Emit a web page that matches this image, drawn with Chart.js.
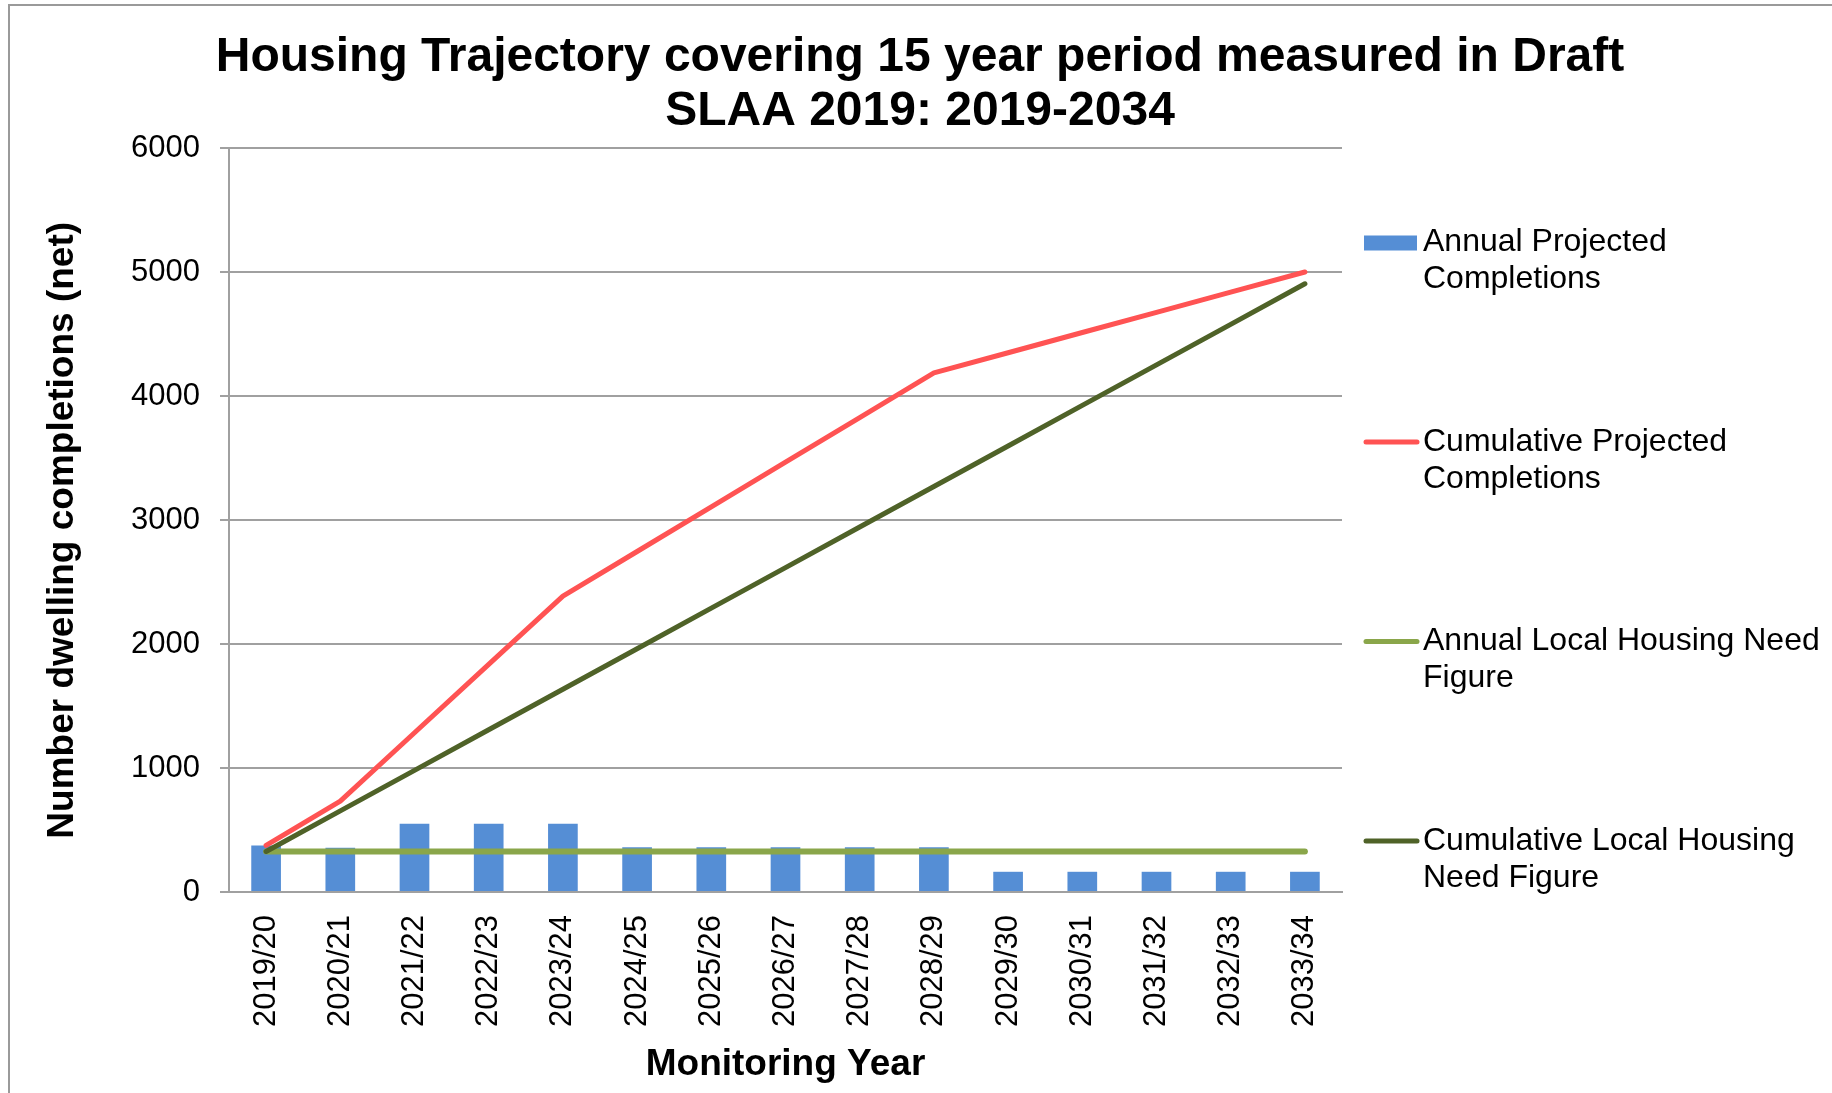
<!DOCTYPE html>
<html>
<head>
<meta charset="utf-8">
<script src="https://cdn.jsdelivr.net/npm/chart.js@4/dist/chart.umd.min.js"></script>
<style>
  html, body { margin: 0; padding: 0; background: #ffffff; }
  #wrap { position: relative; width: 1832px; height: 1093px; }
  canvas { display: block; }
</style>
</head>
<body>
<div id="wrap"><canvas id="c" width="1832" height="1093"></canvas></div>
<script>
// ---- data ----
const categories = ['2019/20','2020/21','2021/22','2022/23','2023/24','2024/25','2025/26','2026/27','2027/28','2028/29','2029/30','2030/31','2031/32','2032/33','2033/34'];
const annualProjected = [376, 357, 551, 551, 551, 360, 360, 360, 360, 360, 163, 163, 163, 163, 163];
const cumulativeProjected = [376, 733, 1284, 1835, 2386, 2746, 3106, 3466, 3826, 4186, 4349, 4512, 4675, 4838, 5000];
const annualNeed = [327, 327, 327, 327, 327, 327, 327, 327, 327, 327, 327, 327, 327, 327, 327];
const cumulativeNeed = [327, 654, 981, 1308, 1635, 1962, 2289, 2616, 2943, 3270, 3597, 3924, 4251, 4578, 4905];
const seriesNames = ['Annual Projected Completions', 'Cumulative Projected Completions', 'Annual Local Housing Need Figure', 'Cumulative Local Housing Need Figure'];
const titleLines = ['Housing Trajectory covering 15 year period measured in Draft', 'SLAA 2019: 2019-2034'];
const yTitle = 'Number dwelling completions (net)';
const xTitle = 'Monitoring Year';

const FONT = "'Liberation Sans', Arial, Helvetica, sans-serif";
const GRID = '#A0A0A0';

const frame = {
  id: 'frame',
  beforeDraw(chart) {
    const ctx = chart.ctx;
    ctx.save();
    ctx.fillStyle = '#ffffff';
    ctx.fillRect(0, 0, chart.width, chart.height);
    ctx.strokeStyle = '#9a9a9a';
    ctx.lineWidth = 2;
    ctx.beginPath();
    ctx.moveTo(9, chart.height);
    ctx.lineTo(9, 5);
    ctx.lineTo(chart.width, 5);
    ctx.stroke();
    ctx.restore();
  }
};

const sideLegend = {
  id: 'sideLegend',
  afterDraw(chart) {
    const ctx = chart.ctx;
    const area = chart.chartArea;
    ctx.save();
    ctx.font = '32px ' + FONT;
    ctx.fillStyle = '#000';
    ctx.textBaseline = 'middle';
    ctx.textAlign = 'left';
    const markX = area.right + 22;
    const markW = 53;
    const textX = area.right + 81;
    const maxW = 405;
    const firstY = 242.5;
    const step = 199.5;
    const lineH = 37;
    chart.data.datasets.forEach((ds, i) => {
      const y = firstY + i * step;
      if (ds.type === 'bar') {
        ctx.fillStyle = ds.backgroundColor;
        ctx.fillRect(markX, y - 7, markW, 15);
      } else {
        ctx.strokeStyle = ds.borderColor;
        ctx.lineWidth = 5;
        ctx.lineCap = 'round';
        ctx.beginPath();
        ctx.moveTo(markX + 2, y);
        ctx.lineTo(markX + markW, y);
        ctx.stroke();
      }
      const words = ds.label.split(' ');
      const lines = [];
      let cur = '';
      words.forEach(w => {
        const test = cur ? cur + ' ' + w : w;
        if (ctx.measureText(test).width > maxW && cur) { lines.push(cur); cur = w; }
        else cur = test;
      });
      if (cur) lines.push(cur);
      ctx.fillStyle = '#000';
      lines.forEach((ln, k) => ctx.fillText(ln, textX, y + k * lineH));
    });
    ctx.restore();
  }
};

new Chart(document.getElementById('c'), {
  data: {
    labels: categories,
    datasets: [
      { type: 'bar', label: seriesNames[0], data: annualProjected, backgroundColor: '#558ED5',
        barPercentage: 0.4, categoryPercentage: 1.0, order: 4 },
      { type: 'line', label: seriesNames[1], data: cumulativeProjected, borderColor: '#FF5353',
        borderWidth: 5, pointRadius: 0, tension: 0, borderCapStyle: 'round', borderJoinStyle: 'round', order: 3 },
      { type: 'line', label: seriesNames[2], data: annualNeed, borderColor: '#8AA64A',
        borderWidth: 6, pointRadius: 0, tension: 0, borderCapStyle: 'round', borderJoinStyle: 'round', order: 2 },
      { type: 'line', label: seriesNames[3], data: cumulativeNeed, borderColor: '#4F6228',
        borderWidth: 5, pointRadius: 0, tension: 0, borderCapStyle: 'round', borderJoinStyle: 'round', order: 1 }
    ]
  },
  options: {
    responsive: false,
    animation: false,
    devicePixelRatio: 1,
    layout: { padding: { left: 8, right: 0, top: 0, bottom: 0 } },
    plugins: {
      legend: { display: false },
      tooltip: { enabled: false },
      title: {
        display: true, text: titleLines, color: '#000',
        font: { family: FONT, size: 48, weight: 'bold', lineHeight: 1.125 },
        padding: { top: 30.5, bottom: 9.5 }
      }
    },
    scales: {
      x: {
        offset: true,
        afterFit(scale) { scale.height = 201; },
        grid: { display: false, drawTicks: false },
        border: { display: true, color: GRID, width: 2 },
        ticks: { color: '#000', font: { family: FONT, size: 31 }, minRotation: 90, maxRotation: 90, autoSkip: false, padding: 23 },
        title: { display: true, text: xTitle, color: '#000', font: { family: FONT, size: 37, weight: 'bold', lineHeight: 1.2 }, padding: { top: 0, bottom: 6 } }
      },
      y: {
        min: 0, max: 6000,
        afterFit(scale) { scale.width = 221; },
        grid: { color: GRID, lineWidth: 2, tickLength: 9, drawTicks: true },
        border: { display: true, color: GRID, width: 2 },
        ticks: { stepSize: 1000, color: '#000', font: { family: FONT, size: 31 }, padding: 20,
                 callback: (v) => String(v) },
        title: { display: true, text: yTitle + '\u00A0\u00A0', color: '#000', font: { family: FONT, size: 37, weight: 'bold', lineHeight: 1.2 }, padding: { top: 33, bottom: 0 } }
      },
      legendSpace: {
        type: 'linear', position: 'right', display: true,
        afterFit(scale) { scale.width = 490; },
        grid: { display: false, drawTicks: false },
        border: { display: false },
        ticks: { display: false }
      }
    }
  },
  plugins: [frame, sideLegend]
});
</script>
</body>
</html>
